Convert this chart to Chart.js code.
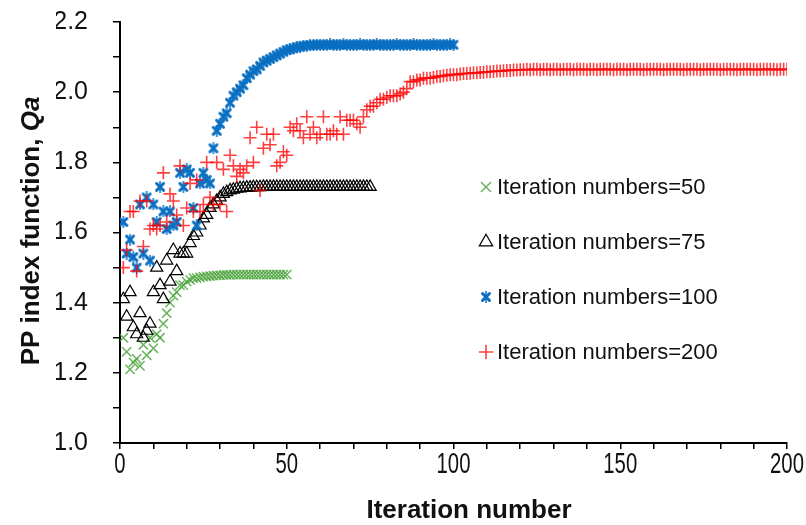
<!DOCTYPE html>
<html lang="en">
<head>
<meta charset="UTF-8">
<title>PP index function vs iteration number</title>
<style>
body { margin: 0; background: #fff; }
#wrap { width: 806px; height: 525px; }
</style>
<script src="https://cdn.jsdelivr.net/npm/chart.js"></script>
</head>
<body>
<div id="wrap"><canvas id="ppChart" width="806" height="525"></canvas></div>
<script>
// Qa, one value per iteration (iteration = index + 1)
const qa50 = [
  1.30, 1.26, 1.21, 1.23, 1.24, 1.22, 1.28, 1.25, 1.30, 1.27,
  1.31, 1.30, 1.34, 1.37, 1.40, 1.42, 1.43, 1.45, 1.45, 1.46,
  1.465, 1.47, 1.47, 1.472, 1.474, 1.475, 1.476, 1.477, 1.478, 1.478,
  1.479, 1.479, 1.479, 1.48, 1.48, 1.48, 1.48, 1.48, 1.48, 1.48,
  1.48, 1.48, 1.48, 1.48, 1.48, 1.48, 1.48, 1.48, 1.48, 1.48
];
const qa75 = [
  1.41, 1.36, 1.43, 1.33, 1.31, 1.37, 1.30, 1.32, 1.34, 1.43,
  1.50, 1.45, 1.41, 1.52, 1.46, 1.55, 1.49, 1.54, 1.54, 1.54,
  1.57, 1.59, 1.60, 1.62, 1.64, 1.65, 1.67, 1.68, 1.69, 1.70,
  1.71, 1.715, 1.72, 1.722, 1.725, 1.726, 1.727, 1.728, 1.728, 1.729,
  1.729, 1.729, 1.73, 1.73, 1.73, 1.73, 1.73, 1.73, 1.73, 1.73,
  1.73, 1.73, 1.73, 1.73, 1.73, 1.73, 1.73, 1.73, 1.73, 1.73,
  1.73, 1.73, 1.73, 1.73, 1.73, 1.73, 1.73, 1.73, 1.73, 1.73,
  1.73, 1.73, 1.73, 1.73, 1.73
];
const qa100 = [
  1.63, 1.54, 1.58, 1.53, 1.50, 1.68, 1.54, 1.70, 1.52, 1.68,
  1.63, 1.73, 1.66, 1.61, 1.66, 1.62, 1.63, 1.77, 1.73, 1.78,
  1.77, 1.67, 1.62, 1.74, 1.77, 1.75, 1.74, 1.84, 1.89, 1.91,
  1.93, 1.94, 1.97, 1.99, 2.00, 2.01, 2.02, 2.04, 2.05, 2.06,
  2.065, 2.075, 2.085, 2.09, 2.095, 2.10, 2.105, 2.11, 2.115, 2.12,
  2.122, 2.125, 2.128, 2.13, 2.132, 2.133, 2.134, 2.135, 2.135, 2.135,
  2.135, 2.135, 2.136, 2.135, 2.135, 2.135, 2.136, 2.135, 2.135, 2.135,
  2.135, 2.136, 2.135, 2.135, 2.135, 2.135, 2.136, 2.135, 2.135, 2.135,
  2.135, 2.135, 2.136, 2.135, 2.135, 2.135, 2.135, 2.136, 2.135, 2.135,
  2.135, 2.135, 2.135, 2.136, 2.135, 2.135, 2.135, 2.135, 2.136, 2.135
];
const qa200 = [
  1.50, 1.55, 1.66, 1.66, 1.49, 1.69, 1.56, 1.69, 1.61, 1.62,
  1.61, 1.62, 1.77, 1.63, 1.71, 1.69, 1.65, 1.79, 1.62, 1.67,
  1.74, 1.66, 1.75, 1.66, 1.68, 1.80, 1.70, 1.68, 1.80, 1.68,
  1.78, 1.66, 1.82, 1.79, 1.76, 1.78, 1.77, 1.79, 1.87, 1.80,
  1.90, 1.72, 1.84, 1.88, 1.85, 1.88, 1.79, 1.80, 1.83, 1.82,
  1.90, 1.89, 1.91, 1.89, 1.87, 1.93, 1.88, 1.90, 1.87, 1.88,
  1.93, 1.88, 1.88, 1.89, 1.88, 1.93, 1.88, 1.92, 1.92, 1.92,
  1.91, 1.90, 1.93, 1.95, 1.96, 1.96, 1.97, 1.98, 1.98, 1.985,
  1.99, 1.99, 1.99, 1.995, 2.00, 2.01, 2.03, 2.03, 2.035, 2.035,
  2.04, 2.04, 2.04, 2.042, 2.045, 2.045, 2.047, 2.048, 2.05, 2.05,
  2.05, 2.052, 2.053, 2.053, 2.054, 2.055, 2.055, 2.056, 2.057, 2.058,
  2.058, 2.059, 2.06, 2.06, 2.061, 2.062, 2.062, 2.063, 2.063, 2.064,
  2.064, 2.065, 2.064, 2.065, 2.065, 2.064, 2.065, 2.065, 2.064, 2.065,
  2.065, 2.064, 2.065, 2.065, 2.065, 2.064, 2.065, 2.065, 2.065, 2.064,
  2.065, 2.065, 2.064, 2.065, 2.065, 2.065, 2.065, 2.064, 2.065, 2.065,
  2.065, 2.064, 2.065, 2.065, 2.065, 2.065, 2.064, 2.065, 2.065, 2.065,
  2.065, 2.065, 2.064, 2.065, 2.065, 2.065, 2.065, 2.065, 2.064, 2.065,
  2.065, 2.065, 2.065, 2.064, 2.065, 2.065, 2.065, 2.065, 2.065, 2.064,
  2.065, 2.065, 2.065, 2.065, 2.064, 2.065, 2.065, 2.065, 2.065, 2.065,
  2.064, 2.065, 2.065, 2.065, 2.065, 2.065, 2.064, 2.065, 2.065, 2.065
];

const seriesLabels = ['Iteration numbers=50', 'Iteration numbers=75', 'Iteration numbers=100', 'Iteration numbers=200'];
const xTickLabels = ['0', '50', '100', '150', '200'];
const yTickLabels = ['1.0', '1.2', '1.4', '1.6', '1.8', '2.0', '2.2'];

function toPoints(values) {
  return values.map((v, i) => ({ x: i + 1, y: v }));
}

// Excel-like asterisk marker: bold X with a thin vertical stroke
function asteriskMarker(color) {
  const c = document.createElement('canvas');
  c.width = 12;
  c.height = 12;
  const g = c.getContext('2d');
  g.strokeStyle = color;
  g.lineCap = 'round';
  g.lineWidth = 3;
  g.beginPath();
  g.moveTo(2.5, 2.5); g.lineTo(9.5, 9.5);
  g.moveTo(9.5, 2.5); g.lineTo(2.5, 9.5);
  g.stroke();
  g.lineWidth = 1.5;
  g.beginPath();
  g.moveTo(6, 0.5); g.lineTo(6, 11.5);
  g.stroke();
  return c;
}

const blueStar = asteriskMarker('#0a6fc2');

const datasets = [
  { label: seriesLabels[0], data: toPoints(qa50), order: 4,
    pointStyle: 'crossRot', pointRadius: 6.5, borderWidth: 1.5,
    borderColor: 'rgba(70,160,55,0.8)', backgroundColor: 'rgba(70,160,55,0.8)' },
  { label: seriesLabels[1], data: toPoints(qa75), order: 3,
    pointStyle: 'triangle', pointRadius: 7, borderWidth: 1.2,
    borderColor: '#000', backgroundColor: 'rgba(0,0,0,0)' },
  { label: seriesLabels[2], data: toPoints(qa100), order: 2,
    pointStyle: blueStar, pointRadius: 6, borderWidth: 0,
    borderColor: '#0a6fc2', backgroundColor: '#0a6fc2' },
  { label: seriesLabels[3], data: toPoints(qa200), order: 1,
    pointStyle: 'cross', pointRadius: 6.5, borderWidth: 1.6,
    borderColor: 'rgba(255,0,0,0.75)', backgroundColor: 'rgba(255,0,0,0.75)' }
];

// axis titles, condensed x tick labels and the in-plot legend
const decorations = {
  id: 'decorations',
  afterDraw(chart) {
    const ctx = chart.ctx;
    const xs = chart.scales.x;

    ctx.save();
    ctx.fillStyle = '#111';
    ctx.textAlign = 'center';
    ctx.textBaseline = 'middle';
    ctx.font = '29px "Liberation Sans", Arial, sans-serif';
    xTickLabels.forEach(lbl => {
      const px = xs.getPixelForValue(Number(lbl));
      ctx.save();
      ctx.translate(px, 465);
      ctx.scale(0.7, 1);
      ctx.fillText(lbl, 0, 0);
      ctx.restore();
    });

    ctx.font = 'bold 26px "Liberation Sans", Arial, sans-serif';
    ctx.fillText('Iteration number', 469, 511);
    ctx.restore();

    // y title with italic Qa
    ctx.save();
    ctx.translate(32, 231);
    ctx.rotate(-Math.PI / 2);
    ctx.fillStyle = '#111';
    ctx.textBaseline = 'middle';
    ctx.textAlign = 'left';
    const part1 = 'PP index function, ';
    const part2 = 'Qa';
    ctx.font = 'bold 26px "Liberation Sans", Arial, sans-serif';
    const w1 = ctx.measureText(part1).width;
    ctx.font = 'italic bold 26px "Liberation Sans", Arial, sans-serif';
    const w2 = ctx.measureText(part2).width;
    const start = -(w1 + w2) / 2;
    ctx.font = 'bold 26px "Liberation Sans", Arial, sans-serif';
    ctx.fillText(part1, start, 0);
    ctx.font = 'italic bold 26px "Liberation Sans", Arial, sans-serif';
    ctx.fillText(part2, start + w1, 0);
    ctx.restore();

    // legend
    ctx.save();
    chart.data.datasets.forEach((ds, i) => {
      const y = 187 + i * 55;
      ctx.fillStyle = ds.backgroundColor;
      ctx.strokeStyle = ds.borderColor;
      ctx.lineWidth = ds.borderWidth;
      Chart.helpers.drawPoint(ctx, {
        pointStyle: ds.pointStyle, radius: ds.pointRadius * 1.1, rotation: 0, borderWidth: ds.borderWidth
      }, 486, y);
      ctx.fillStyle = '#111';
      ctx.font = '22px "Liberation Sans", Arial, sans-serif';
      ctx.textAlign = 'left';
      ctx.textBaseline = 'middle';
      ctx.fillText(ds.label, 497, y + 1);
    });
    ctx.restore();
  }
};

new Chart(document.getElementById('ppChart'), {
  type: 'scatter',
  data: { datasets: datasets },
  options: {
    responsive: false,
    animation: false,
    layout: { padding: { left: 56, right: 19, top: 22, bottom: 52 } },
    plugins: { legend: { display: false }, tooltip: { enabled: false } },
    scales: {
      x: {
        type: 'linear', min: 0, max: 200,
        grid: { drawOnChartArea: false, color: '#000', lineWidth: 1.5, tickLength: 6 },
        border: { color: '#000', width: 2 },
        ticks: { stepSize: 10, callback: () => '' },
        afterFit: scale => { scale.height = 30; }
      },
      y: {
        type: 'linear', min: 1.0, max: 2.2,
        grid: { drawOnChartArea: false, color: '#000', lineWidth: 1.5, tickLength: 7 },
        border: { color: '#000', width: 2 },
        ticks: {
          stepSize: 0.1, padding: 25, color: '#111',
          font: { family: '"Liberation Sans", Arial, sans-serif', size: 25 },
          callback: value => {
            const s = value.toFixed(1);
            return yTickLabels.includes(s) ? s : '';
          }
        },
        afterFit: scale => {
          scale.width = 64;
          scale.paddingTop = 0;
          scale.paddingBottom = 0;
        }
      }
    }
  },
  plugins: [decorations]
});
</script>
</body>
</html>
